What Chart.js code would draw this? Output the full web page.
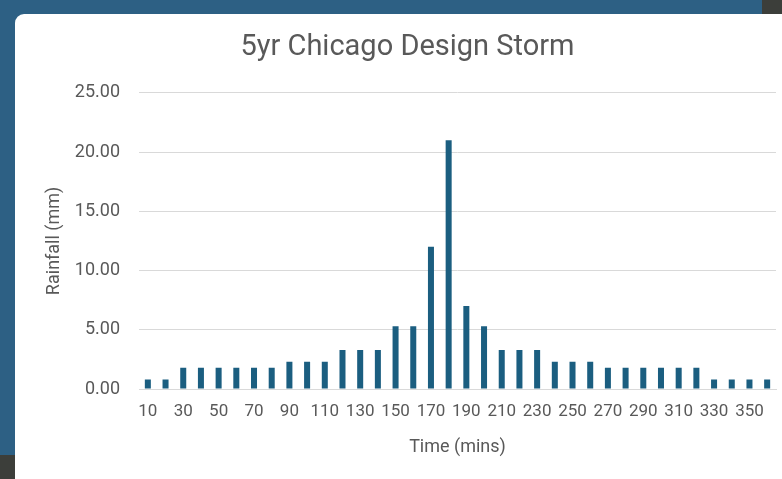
<!DOCTYPE html>
<html>
<head>
<meta charset="utf-8">
<script src="https://cdn.jsdelivr.net/npm/chart.js@4/dist/chart.umd.min.js"></script>
<style>
  html, body { margin: 0; padding: 0; }
  body { width: 782px; height: 479px; background: #2d6084; position: relative; overflow: hidden; }
  .grey1 { position: absolute; left: 0; top: 455px; width: 20px; height: 30px; background: #3c3e3a; }
  .grey2 { position: absolute; left: 762px; top: 0; width: 30px; height: 20px; background: #3c3e3a; }
  .card { position: absolute; left: 15px; top: 14px; width: 800px; height: 500px; background: #fff; border-radius: 9px; }
  #rainChart { position: absolute; left: 0; top: 0; }
</style>
</head>
<body>
<div class="grey1"></div>
<div class="grey2"></div>
<div class="card"></div>
<canvas id="rainChart" width="782" height="479"></canvas>
<script>
// time steps in minutes
const times = [10, 20, 30, 40, 50, 60, 70, 80, 90, 100, 110, 120, 130, 140, 150, 160, 170, 180,
  190, 200, 210, 220, 230, 240, 250, 260, 270, 280, 290, 300, 310, 320, 330, 340, 350, 360];

// rainfall per step (mm)
const rainfall = [0.8, 0.8, 1.8, 1.8, 1.8, 1.8, 1.8, 1.8, 2.3, 2.3, 2.3, 3.3, 3.3, 3.3, 5.3, 5.3, 12.0, 21.0,
  7.0, 5.3, 3.3, 3.3, 3.3, 2.3, 2.3, 2.3, 1.8, 1.8, 1.8, 1.8, 1.8, 1.8, 0.8, 0.8, 0.8, 0.8];

const textColor = '#595959';
const fontFamily = 'Roboto, "Liberation Sans", sans-serif';

const chart = new Chart(document.getElementById('rainChart'), {
  type: 'bar',
  data: {
    labels: times,
    datasets: [{
      label: 'Rainfall',
      data: rainfall,
      backgroundColor: '#1b5e80',
      barPercentage: 0.34,
      categoryPercentage: 1
    }]
  },
  options: {
    responsive: false,
    animation: false,
    layout: { padding: { left: 39, top: 14, right: 6, bottom: 0 } },
    plugins: {
      legend: { display: false },
      tooltip: { enabled: false },
      title: {
        display: true,
        text: '5yr Chicago Design Storm',
        color: textColor,
        font: { family: fontFamily, size: 29, weight: 'normal' },
        padding: { top: 16, bottom: 28 }
      }
    },
    scales: {
      x: {
        grid: { display: false, drawTicks: false },
        border: { color: '#d9d9d9' },
        ticks: {
          color: textColor,
          font: { family: fontFamily, size: 17 },
          padding: 13,
          autoSkip: false,
          maxRotation: 0,
          callback: function (val, i) { return i % 2 === 0 ? this.getLabelForValue(val) : ''; }
        },
        title: {
          display: true,
          text: 'Time (mins)',
          color: textColor,
          font: { family: fontFamily, size: 18 },
          padding: { top: 0, bottom: 21 }
        },
        afterFit: function (s) { s.height = 90; }
      },
      y: {
        min: 0,
        max: 25,
        grid: { color: '#d9d9d9', drawTicks: false },
        border: { display: false },
        ticks: {
          stepSize: 5,
          color: textColor,
          font: { family: fontFamily, size: 18 },
          padding: 19,
          callback: function (v) { return v.toFixed(2); }
        },
        title: {
          display: true,
          text: 'Rainfall (mm)',
          color: textColor,
          font: { family: fontFamily, size: 18 },
          padding: { top: 5, bottom: 0 }
        },
        afterFit: function (s) { s.width = 100; }
      }
    }
  }
});
</script>
</body>
</html>
